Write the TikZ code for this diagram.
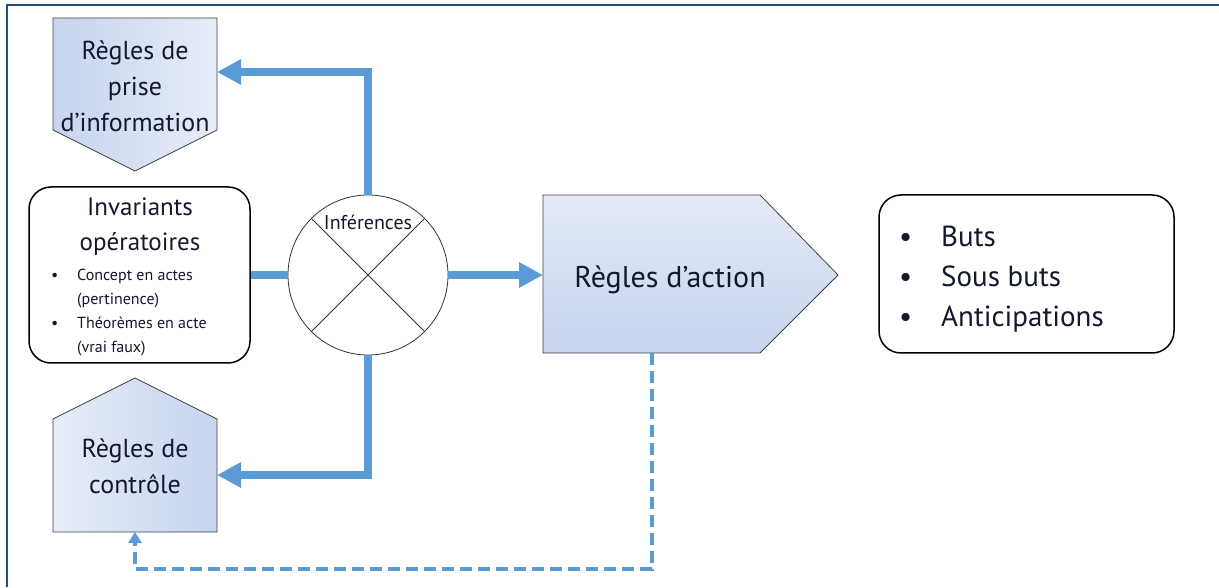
\documentclass[tikz,border=0pt]{standalone}
\usepackage{fontspec}
\setmainfont{PT Sans}
\usetikzlibrary{calc,positioning,arrows.meta}

\definecolor{flowblue}{HTML}{5B9BD5}
\definecolor{framenavy}{HTML}{1F4E79}
\definecolor{paledark}{HTML}{C6D4EE}
\definecolor{palelight}{HTML}{E7EDF8}
\definecolor{inknavy}{HTML}{14182C}

\begin{document}
\begin{tikzpicture}[x=1pt,y=1pt,
	flow/.style={flowblue,line width=8pt,-{Triangle[length=24pt,width=24pt]}},
	feedback/.style={flowblue,line width=4pt,dash pattern=on 12pt off 6pt,-{Triangle[length=11pt,width=13pt]}},
	rulebox/.style={draw=black!75,line width=0.8pt},
	roundbox/.style={draw=black,line width=1.5pt,rounded corners=22pt},
	biglabel/.style={text=inknavy,align=center,font=\fontsize{26}{36}\selectfont}]
	\useasboundingbox (0,0) rectangle (1219,587);
	\draw[framenavy,line width=2.5pt] (7,0) -- (7,582) -- (1219,582);

	% regles de prise d'information
	\draw[rulebox,left color=paledark,right color=palelight] (53,569) -- (217,569) -- (217,457) -- (135,416) -- (53,457) -- cycle;
	\node[biglabel] (prise) at (135,501) {Règles de\\prise\\d’information};
	\coordinate (prise-in) at (217,515);

	% regles de controle
	\draw[rulebox,left color=palelight,right color=paledark] (53,55) -- (217,55) -- (217,168) -- (135,209) -- (53,168) -- cycle;
	\node[biglabel] (ctrl) at (135,121) {Règles de\\contrôle};
	\coordinate (ctrl-in) at (217,112);
	\coordinate (ctrl-out) at (135,55);

	% regles d'action
	\draw[rulebox,top color=palelight!90!paledark,bottom color=paledark] (543,392) -- (760,392) -- (838,312) -- (760,234) -- (543,234) -- cycle;
	\node[biglabel,font=\fontsize{30}{36}\selectfont] (action) at (670,307) {Règles d’action};
	\coordinate (action-in) at (543,312);
	\coordinate (action-out) at (652,234);

	% invariants operatoires
	\node[roundbox,minimum width=221pt,minimum height=176pt] (inv) at (139.5,312) {};
	\node[biglabel,font=\fontsize{25}{35}\selectfont] (inv-title) at (140,360) {Invariants\\opératoires};
	\node[anchor=west,text=inknavy,inner sep=0pt,font=\fontsize{16}{24}\selectfont] (inv-list) at (51,275)
		{\begin{tabular}{@{}p{20pt}@{\hspace{6pt}}l@{}}
		\textbullet & Concept en actes\\
		 & (pertinence)\\
		\textbullet & Théorèmes en acte\\
		 & (vrai faux)
		\end{tabular}};

	% inferences
	\node[circle,draw=black!80,line width=0.8pt,minimum size=160pt] (infer) at (368,312) {};
	\draw[black!80,line width=0.8pt] (infer.45) -- (infer.225);
	\draw[black!80,line width=0.8pt] (infer.135) -- (infer.-45);
	\node[text=inknavy,inner sep=1pt,font=\fontsize{20}{22}\selectfont] (infer-label) at (368,365) {Inférences};

	% buts
	\node[roundbox,minimum width=295pt,minimum height=158pt] (buts) at (1026.5,313) {};
	\node[anchor=west,text=inknavy,inner sep=0pt,font=\fontsize{29}{40}\selectfont] (buts-list) at (899,308)
		{\begin{tabular}{@{}p{24pt}@{\hspace{18pt}}l@{}}
		\textbullet & Buts\\
		\textbullet & Sous buts\\
		\textbullet & Anticipations
		\end{tabular}};

	% connecteurs
	\draw[flowblue,line width=8pt] (inv.east) -- (infer.west);
	\draw[flow] (infer.north) |- (prise-in);
	\draw[flow] (infer.south) |- (ctrl-in);
	\draw[flow] (infer.east) -- (action-in);
	\draw[feedback] (action-out) -- ++(0,-216) -| (ctrl-out);
\end{tikzpicture}
\end{document}
